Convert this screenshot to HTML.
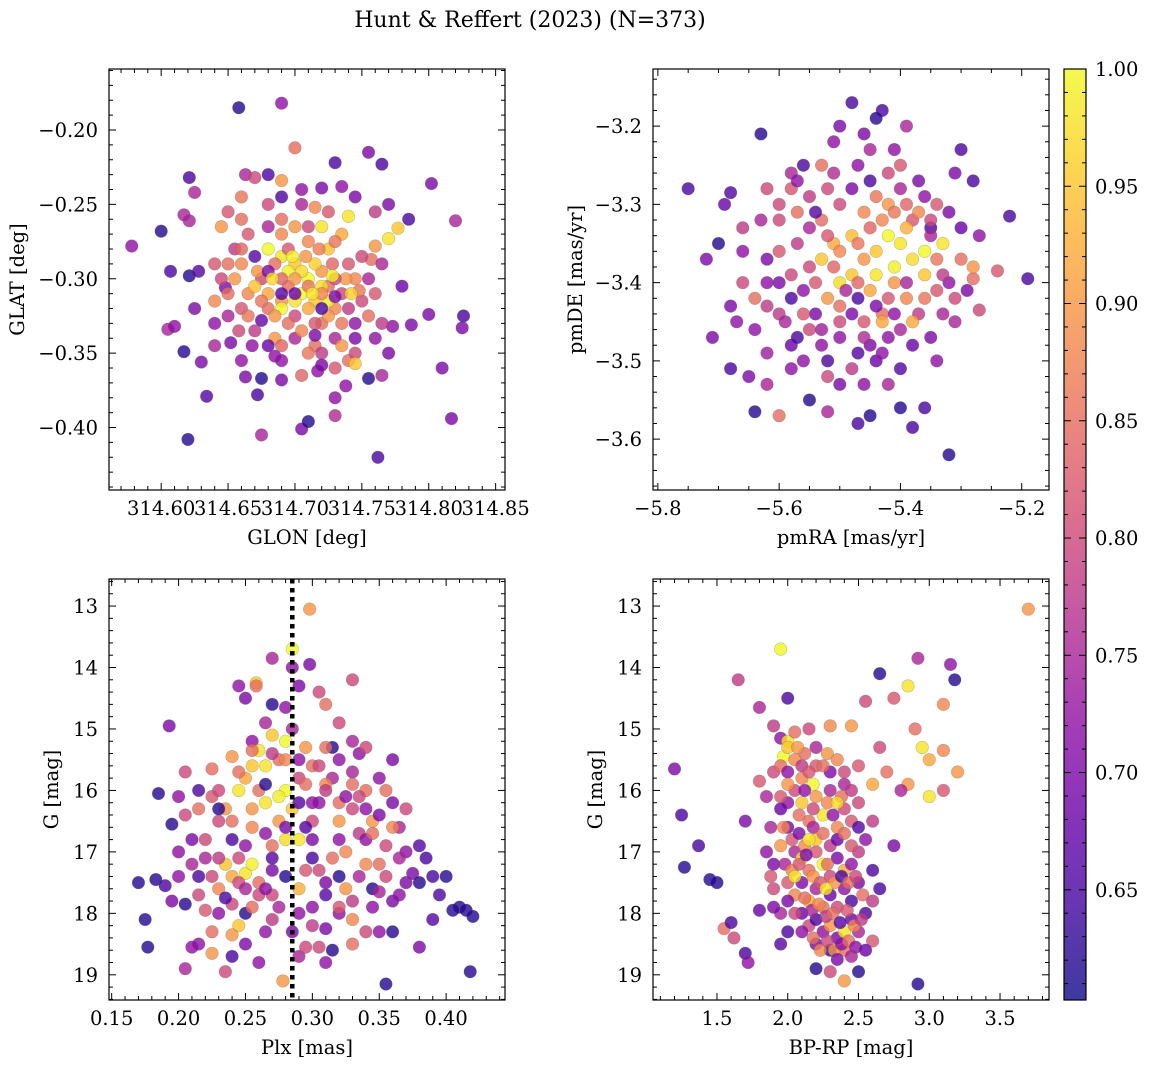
<!DOCTYPE html>
<html><head><meta charset="utf-8"><style>
html,body{margin:0;padding:0;background:#fff;}
svg text{font-family:"DejaVu Serif","Liberation Serif",serif;fill:#000;}
</style></head><body>
<svg id="fig" width="1149" height="1068" xmlns="http://www.w3.org/2000/svg">
<text x="530" y="27" font-size="22" text-anchor="middle">Hunt &amp; Reffert (2023) (N=373)</text>
</svg>
<script>
// ---- data ----
const p1 = [[314.578,-0.278,0.72],[314.60,-0.268,0.62],[314.621,-0.232,0.65],[314.625,-0.242,0.75],[314.607,-0.295,0.65],[314.621,-0.298,0.62],[314.628,-0.295,0.66],[314.605,-0.334,0.75],[314.61,-0.332,0.72],[314.617,-0.349,0.62],[314.63,-0.356,0.7],[314.634,-0.379,0.66],[314.62,-0.408,0.62],[314.617,-0.257,0.75],[314.621,-0.261,0.75],[314.658,-0.185,0.62],[314.69,-0.182,0.72],[314.648,-0.306,0.7],[314.652,-0.343,0.7],[314.663,-0.366,0.7],[314.672,-0.378,0.65],[314.675,-0.367,0.62],[314.675,-0.405,0.75],[314.685,-0.352,0.72],[314.69,-0.368,0.7],[314.705,-0.401,0.7],[314.71,-0.396,0.62],[314.717,-0.362,0.72],[314.73,-0.38,0.72],[314.738,-0.372,0.72],[314.73,-0.392,0.76],[314.755,-0.367,0.62],[314.765,-0.365,0.75],[314.762,-0.42,0.65],[314.773,-0.332,0.72],[314.787,-0.331,0.7],[314.8,-0.324,0.7],[314.81,-0.36,0.7],[314.817,-0.394,0.7],[314.826,-0.325,0.65],[314.825,-0.333,0.7],[314.82,-0.261,0.75],[314.802,-0.236,0.7],[314.785,-0.26,0.65],[314.765,-0.223,0.65],[314.755,-0.215,0.7],[314.73,-0.222,0.65],[314.7,-0.212,0.85],[314.663,-0.23,0.75],[314.67,-0.232,0.8],[314.68,-0.23,0.65],[314.69,-0.234,0.9],[314.72,-0.239,0.7],[314.745,-0.245,0.7],[314.77,-0.25,0.7],[314.777,-0.266,0.95],[314.77,-0.273,0.98],[314.76,-0.278,0.9],[314.74,-0.258,0.98],[314.757,-0.287,0.85],[314.765,-0.29,0.75],[314.78,-0.305,0.68],[314.68,-0.28,1.0],[314.69,-0.285,0.98],[314.70,-0.29,0.95],[314.71,-0.30,1.0],[314.72,-0.295,0.9],[314.695,-0.305,0.85],[314.705,-0.31,1.0],[314.715,-0.315,0.95],[314.725,-0.305,0.85],[314.735,-0.31,0.8],[314.69,-0.315,0.9],[314.68,-0.32,0.85],[314.70,-0.325,0.8],[314.71,-0.32,0.92],[314.72,-0.33,0.85],[314.73,-0.32,0.88],[314.675,-0.3,0.8],[314.665,-0.31,0.88],[314.66,-0.32,0.82],[314.67,-0.335,0.78],[314.685,-0.34,0.9],[314.70,-0.34,0.75],[314.715,-0.345,0.85],[314.73,-0.34,0.75],[314.745,-0.33,0.72],[314.75,-0.315,0.8],[314.745,-0.3,0.88],[314.74,-0.29,0.82],[314.725,-0.28,0.95],[314.71,-0.275,0.88],[314.70,-0.265,0.9],[314.69,-0.26,0.85],[314.68,-0.265,0.75],[314.665,-0.27,0.82],[314.655,-0.28,0.78],[314.65,-0.29,0.85],[314.655,-0.3,0.9],[314.64,-0.315,0.88],[314.65,-0.325,0.75],[314.72,-0.265,0.98],[314.735,-0.27,0.92],[314.705,-0.295,0.97],[314.695,-0.295,0.99],[314.715,-0.29,0.96],[314.725,-0.315,0.99],[314.74,-0.355,0.85],[314.745,-0.35,0.8],[314.76,-0.34,0.72],[314.765,-0.33,0.78],[314.64,-0.33,0.72],[314.66,-0.26,0.85],[314.645,-0.265,0.9],[314.65,-0.255,0.82],[314.69,-0.245,0.65],[314.705,-0.25,0.75],[314.735,-0.238,0.72],[314.725,-0.255,0.82],[314.715,-0.252,0.88],[314.745,-0.357,0.95],[314.69,-0.355,0.72],[314.68,-0.345,0.68],[314.705,-0.365,0.84],[314.735,-0.345,0.9],[314.67,-0.305,0.95],[314.68,-0.31,0.92],[314.69,-0.32,1.0],[314.70,-0.315,0.98],[314.72,-0.305,0.97],
[314.66,-0.29,0.88],[314.672,-0.295,0.9],[314.685,-0.29,0.85],[314.695,-0.28,0.82],[314.708,-0.285,0.9],[314.718,-0.28,0.87],[314.728,-0.29,0.84],[314.738,-0.3,0.9],[314.748,-0.308,0.86],[314.73,-0.3,0.8],[314.72,-0.31,0.88],[314.71,-0.305,0.86],[314.70,-0.3,0.9],[314.69,-0.3,0.84],[314.68,-0.295,0.7],[314.675,-0.315,0.86],[314.685,-0.325,0.9],[314.695,-0.33,0.85],[314.705,-0.335,0.88],[314.715,-0.33,0.82],[314.725,-0.325,0.9],[314.735,-0.33,0.86],[314.74,-0.32,0.78],[314.755,-0.325,0.85],[314.665,-0.325,0.86],[314.658,-0.335,0.8],[314.668,-0.345,0.72],[314.69,-0.345,0.84],[314.71,-0.35,0.86],[314.72,-0.35,0.78],[314.73,-0.36,0.82],[314.65,-0.31,0.85],[314.645,-0.3,0.8],[314.64,-0.29,0.82],[314.66,-0.28,0.84],[314.67,-0.285,0.66],[314.69,-0.27,0.88],[314.71,-0.265,0.8],[314.73,-0.275,0.86],[314.75,-0.285,0.8],[314.755,-0.3,0.75],[314.76,-0.31,0.82],[314.72,-0.32,0.65],[314.70,-0.31,0.68],[314.69,-0.31,0.66],[314.73,-0.312,0.7],[314.675,-0.328,0.68],[314.715,-0.338,0.7],[314.745,-0.34,0.7],[314.64,-0.345,0.75],[314.625,-0.32,0.7],[314.76,-0.255,0.78],[314.68,-0.25,0.8],[314.66,-0.245,0.86],[314.705,-0.24,0.72],[314.72,-0.358,0.7],[314.77,-0.35,0.7],[314.66,-0.355,0.72],[314.698,-0.285,0.99],[314.713,-0.31,0.98],[314.683,-0.3,0.97],[314.742,-0.31,0.96],[314.728,-0.298,0.99]];
const p2 = [[-5.75,-3.28,0.65],[-5.63,-3.21,0.62],[-5.69,-3.30,0.68],[-5.68,-3.285,0.66],[-5.70,-3.35,0.62],[-5.72,-3.37,0.7],[-5.71,-3.47,0.7],[-5.67,-3.45,0.72],[-5.68,-3.51,0.65],[-5.65,-3.52,0.7],[-5.64,-3.565,0.62],[-5.6,-3.57,0.85],[-5.62,-3.53,0.75],[-5.55,-3.55,0.62],[-5.52,-3.565,0.75],[-5.47,-3.58,0.65],[-5.45,-3.57,0.62],[-5.4,-3.56,0.62],[-5.38,-3.585,0.65],[-5.36,-3.56,0.65],[-5.32,-3.62,0.62],[-5.5,-3.53,0.7],[-5.42,-3.53,0.75],[-5.48,-3.17,0.65],[-5.43,-3.18,0.65],[-5.44,-3.19,0.62],[-5.41,-3.23,0.72],[-5.39,-3.2,0.75],[-5.5,-3.2,0.7],[-5.46,-3.21,0.7],[-5.51,-3.22,0.72],[-5.56,-3.25,0.65],[-5.58,-3.26,0.75],[-5.53,-3.25,0.85],[-5.45,-3.23,0.75],[-5.3,-3.23,0.65],[-5.31,-3.26,0.7],[-5.28,-3.27,0.65],[-5.22,-3.315,0.65],[-5.27,-3.34,0.72],[-5.19,-3.395,0.65],[-5.24,-3.385,0.82],[-5.28,-3.395,0.85],[-5.27,-3.435,0.8],[-5.32,-3.31,0.7],[-5.35,-3.33,0.65],[-5.3,-3.37,0.85],[-5.28,-3.38,0.9],[-5.42,-3.34,1.0],[-5.4,-3.35,0.98],[-5.38,-3.37,0.97],[-5.36,-3.36,1.0],[-5.44,-3.36,0.95],[-5.46,-3.37,0.9],[-5.48,-3.39,0.95],[-5.5,-3.4,0.97],[-5.45,-3.41,0.92],[-5.41,-3.4,0.9],[-5.39,-3.42,0.88],[-5.43,-3.44,0.85],[-5.5,-3.43,0.85],[-5.52,-3.42,0.9],[-5.55,-3.38,0.8],[-5.57,-3.35,0.78],[-5.53,-3.32,0.85],[-5.5,-3.3,0.8],[-5.46,-3.31,0.88],[-5.42,-3.3,0.9],[-5.38,-3.32,0.82],[-5.35,-3.34,0.75],[-5.33,-3.35,0.98],[-5.36,-3.39,0.95],[-5.34,-3.41,0.82],[-5.37,-3.44,0.78],[-5.4,-3.46,0.75],[-5.45,-3.48,0.7],[-5.5,-3.47,0.72],[-5.55,-3.46,0.8],[-5.6,-3.44,0.78],[-5.62,-3.4,0.72],[-5.6,-3.36,0.82],[-5.63,-3.32,0.75],[-5.6,-3.3,0.8],[-5.58,-3.28,0.82],[-5.55,-3.29,0.78],[-5.52,-3.28,0.8],[-5.48,-3.28,0.7],[-5.45,-3.27,0.65],[-5.42,-3.26,0.8],[-5.4,-3.28,0.75],[-5.36,-3.29,0.72],[-5.58,-3.48,0.68],[-5.56,-3.5,0.72],[-5.52,-3.5,0.65],[-5.48,-3.51,0.78],[-5.44,-3.5,0.68],[-5.42,-3.47,0.72],[-5.35,-3.47,0.7],[-5.33,-3.44,0.75],[-5.32,-3.4,0.72],[-5.47,-3.42,0.65],[-5.53,-3.37,0.95],[-5.51,-3.35,0.92],[-5.44,-3.39,0.98],[-5.41,-3.38,0.99],[-5.39,-3.33,0.93],[-5.48,-3.34,0.94],[-5.62,-3.37,0.7],[-5.66,-3.36,0.72],[-5.64,-3.42,0.85],[-5.66,-3.4,0.8],[-5.58,-3.42,0.65],[-5.54,-3.44,0.7],[-5.46,-3.45,0.82],[-5.43,-3.45,0.92],[-5.38,-3.45,0.92],
[-5.6,-3.32,0.8],[-5.57,-3.31,0.85],[-5.55,-3.33,0.75],[-5.52,-3.34,0.82],[-5.5,-3.36,0.88],[-5.47,-3.35,0.86],[-5.45,-3.33,0.84],[-5.43,-3.32,0.88],[-5.41,-3.31,0.86],[-5.39,-3.3,0.84],[-5.37,-3.31,0.88],[-5.35,-3.32,0.8],[-5.34,-3.37,0.86],[-5.33,-3.39,0.78],[-5.31,-3.42,0.8],[-5.36,-3.42,0.86],[-5.39,-3.4,0.75],[-5.42,-3.42,0.82],[-5.44,-3.43,0.7],[-5.47,-3.4,0.84],[-5.49,-3.41,0.75],[-5.51,-3.38,0.84],[-5.54,-3.4,0.82],[-5.56,-3.41,0.72],[-5.58,-3.39,0.8],[-5.6,-3.4,0.7],[-5.62,-3.43,0.78],[-5.59,-3.45,0.75],[-5.56,-3.44,0.82],[-5.53,-3.46,0.74],[-5.5,-3.45,0.8],[-5.48,-3.44,0.7],[-5.46,-3.47,0.76],[-5.41,-3.44,0.72],[-5.38,-3.48,0.68],[-5.43,-3.49,0.72],[-5.47,-3.49,0.66],[-5.53,-3.48,0.72],[-5.57,-3.47,0.65],[-5.64,-3.46,0.72],[-5.66,-3.33,0.78],[-5.62,-3.28,0.8],[-5.57,-3.27,0.72],[-5.54,-3.31,0.66],[-5.51,-3.26,0.76],[-5.47,-3.25,0.72],[-5.44,-3.29,0.86],[-5.4,-3.25,0.82],[-5.37,-3.27,0.7],[-5.34,-3.3,0.82],[-5.3,-3.33,0.68],[-5.29,-3.41,0.7],[-5.31,-3.45,0.75],[-5.34,-3.5,0.72],[-5.4,-3.51,0.66],[-5.46,-3.53,0.72],[-5.52,-3.52,0.8],[-5.58,-3.51,0.72],[-5.62,-3.49,0.74],[-5.68,-3.43,0.7]];
const p3 = [[0.298,13.05,0.9],[0.285,13.7,1.0],[0.27,13.85,0.75],[0.258,14.25,0.95],[0.258,14.3,0.85],[0.25,14.5,0.7],[0.298,13.95,0.7],[0.33,14.2,0.8],[0.305,14.4,0.8],[0.28,14.65,0.72],[0.31,14.6,0.85],[0.32,14.9,0.8],[0.193,14.95,0.7],[0.285,15.0,0.75],[0.27,15.1,0.95],[0.255,15.2,0.72],[0.26,15.35,0.98],[0.28,15.2,1.0],[0.295,15.3,0.9],[0.315,15.3,0.62],[0.335,15.4,0.72],[0.34,15.3,0.8],[0.36,15.5,0.7],[0.24,15.45,0.9],[0.225,15.65,0.85],[0.205,15.7,0.8],[0.17,17.5,0.62],[0.183,17.45,0.62],[0.19,17.55,0.65],[0.175,18.1,0.62],[0.177,18.55,0.62],[0.185,16.05,0.62],[0.195,16.55,0.62],[0.2,17.0,0.72],[0.205,17.85,0.62],[0.21,18.55,0.72],[0.205,18.9,0.75],[0.215,18.5,0.72],[0.235,18.95,0.8],[0.225,18.65,0.9],[0.245,18.2,0.95],[0.24,18.35,0.9],[0.225,18.3,0.85],[0.22,17.95,0.82],[0.23,17.6,0.88],[0.24,17.4,0.92],[0.25,17.35,0.98],[0.26,17.5,0.85],[0.27,17.7,0.8],[0.275,17.9,0.75],[0.285,18.3,0.7],[0.29,18.7,0.75],[0.278,19.1,0.9],[0.295,18.55,0.8],[0.305,18.55,0.8],[0.31,18.25,0.7],[0.32,18.0,0.72],[0.33,18.5,0.85],[0.34,18.3,0.8],[0.35,18.3,0.72],[0.36,18.3,0.62],[0.355,19.15,0.62],[0.38,18.55,0.7],[0.39,17.4,0.65],[0.4,17.4,0.62],[0.41,17.9,0.62],[0.415,17.95,0.62],[0.42,18.05,0.62],[0.418,18.95,0.62],[0.405,17.95,0.62],[0.385,17.1,0.65],[0.375,17.35,0.7],[0.37,17.0,0.72],[0.365,16.6,0.75],[0.36,16.2,0.7],[0.355,16.9,0.8],[0.35,17.2,0.85],[0.345,16.5,0.9],[0.34,16.0,0.85],[0.335,16.7,0.78],[0.33,16.3,0.8],[0.325,17.0,0.88],[0.32,16.8,0.72],[0.315,15.8,0.75],[0.31,15.9,0.88],[0.305,16.2,0.72],[0.3,16.5,0.8],[0.3,17.1,0.65],[0.31,17.5,0.7],[0.32,17.4,0.62],[0.33,17.8,0.78],[0.345,17.6,0.62],[0.3,17.9,0.72],[0.295,17.3,0.82],[0.29,16.8,0.98],[0.285,16.3,0.95],[0.28,16.0,1.0],[0.275,16.5,0.9],[0.27,16.9,0.85],[0.265,16.2,0.98],[0.26,16.0,0.85],[0.255,16.6,0.88],[0.25,16.9,0.72],[0.245,17.1,0.8],[0.24,16.8,0.65],[0.235,17.2,0.95],[0.23,16.5,0.8],[0.22,17.1,0.75],[0.215,17.4,0.65],[0.21,16.8,0.7],[0.215,16.3,0.85],[0.225,16.1,0.82],[0.235,16.3,0.9],[0.245,16.0,0.98],[0.25,15.8,0.92],[0.255,15.6,0.95],[0.265,15.9,0.62],[0.275,15.5,0.85],[0.29,15.8,0.8],[0.3,15.6,0.85],[0.31,16.0,0.78],[0.32,16.2,0.85],[0.33,15.7,0.75],[0.34,16.8,0.72],[0.28,17.4,0.62],[0.27,17.3,0.7],[0.26,17.7,0.8],[0.25,18.0,0.62],[0.24,17.85,0.8],[0.35,17.65,0.75],[0.36,17.8,0.7],[0.255,17.2,0.99],[0.28,16.8,0.97],[0.275,16.1,0.99],[0.29,17.6,0.93],
[0.2,16.1,0.72],[0.205,16.4,0.8],[0.21,17.2,0.75],[0.2,17.4,0.72],[0.195,17.8,0.7],[0.215,17.7,0.8],[0.225,17.4,0.8],[0.23,17.1,0.78],[0.23,18.0,0.72],[0.235,17.75,0.65],[0.245,17.5,0.8],[0.25,17.6,0.75],[0.255,17.9,0.85],[0.265,17.6,0.72],[0.27,18.1,0.78],[0.265,18.3,0.72],[0.25,18.5,0.7],[0.24,18.7,0.65],[0.26,18.8,0.72],[0.22,16.8,0.8],[0.23,16.0,0.8],[0.24,16.5,0.85],[0.255,16.3,0.9],[0.265,16.7,0.72],[0.27,17.1,0.66],[0.245,15.7,0.85],[0.265,15.6,0.98],[0.255,15.35,0.85],[0.27,15.4,0.78],[0.28,15.5,0.88],[0.295,15.9,0.85],[0.3,16.2,0.72],[0.295,16.6,0.66],[0.3,16.8,0.7],[0.305,17.3,0.8],[0.31,17.7,0.66],[0.315,17.1,0.85],[0.32,16.5,0.9],[0.325,16.1,0.72],[0.33,15.9,0.85],[0.335,16.1,0.8],[0.34,16.3,0.72],[0.345,16.7,0.85],[0.35,16.4,0.7],[0.355,16.0,0.85],[0.36,16.6,0.88],[0.365,17.1,0.75],[0.37,17.5,0.7],[0.365,17.7,0.72],[0.355,17.4,0.8],[0.345,17.9,0.72],[0.34,17.2,0.88],[0.335,17.4,0.75],[0.325,17.6,0.9],[0.32,17.9,0.82],[0.33,18.1,0.88],[0.315,18.6,0.62],[0.31,18.8,0.72],[0.3,18.2,0.78],[0.29,18.0,0.72],[0.29,16.2,0.66],[0.28,16.6,0.7],[0.305,15.6,0.8],[0.31,15.3,0.85],[0.32,15.5,0.72],[0.33,15.2,0.75],[0.35,15.8,0.72],[0.37,16.3,0.8],[0.38,16.9,0.66],[0.38,17.5,0.62],[0.395,17.7,0.65],[0.39,18.1,0.66],[0.285,14.0,0.72],[0.29,14.3,0.7],[0.29,15.5,0.72],[0.265,14.9,0.75],[0.27,14.6,0.62],[0.245,14.3,0.72],[0.23,16.3,0.62],[0.215,16.0,0.65]];
const p4 = [[3.7,13.05,0.9],[1.95,13.7,1.0],[2.0,14.5,0.65],[1.65,14.2,0.78],[1.2,15.65,0.7],[1.25,16.4,0.65],[1.27,17.25,0.62],[1.37,16.9,0.65],[1.45,17.45,0.62],[1.5,17.5,0.62],[1.55,18.25,0.85],[1.6,18.15,0.65],[1.62,18.4,0.8],[1.7,18.65,0.65],[1.72,18.8,0.72],[1.8,17.95,0.68],[1.7,16.5,0.7],[1.8,15.85,0.82],[1.85,16.1,0.75],[1.9,14.95,0.78],[1.8,14.65,0.75],[1.95,15.15,0.72],[2.0,15.2,0.98],[1.97,15.45,1.0],[2.0,15.3,0.95],[2.05,15.05,0.85],[2.15,15.0,0.8],[2.3,14.95,0.88],[2.45,14.95,0.9],[2.55,14.55,0.8],[2.65,14.1,0.62],[2.75,14.5,0.82],[2.85,14.3,0.98],[2.92,13.85,0.75],[3.15,13.95,0.72],[3.18,14.2,0.62],[3.1,14.6,0.88],[2.9,15.0,0.85],[2.95,15.3,0.98],[3.1,15.35,0.88],[3.0,15.5,0.92],[3.2,15.7,0.9],[2.85,15.9,0.9],[3.0,16.1,0.98],[2.8,16.0,0.75],[3.1,16.0,0.82],[2.7,15.7,0.85],[2.65,15.3,0.8],[2.6,15.9,0.92],[2.5,15.6,0.82],[2.75,16.9,0.7],[2.65,17.6,0.65],[2.6,18.45,0.82],[2.5,18.95,0.62],[2.4,19.1,0.9],[2.3,18.95,0.8],[2.92,19.15,0.62],[2.2,18.9,0.62],[2.05,16.0,0.8],[2.1,16.2,0.95],[2.15,16.5,0.85],[2.2,16.1,0.9],[2.25,16.4,0.98],[2.3,16.0,0.75],[2.35,16.6,0.88],[2.4,16.3,0.8],[2.0,16.6,0.7],[1.95,16.9,0.9],[2.05,17.0,0.75],[2.1,17.1,0.98],[2.15,17.3,0.85],[2.2,17.0,0.82],[2.25,17.2,1.0],[2.3,17.4,0.8],[2.35,17.1,0.7],[2.4,17.3,0.92],[2.45,17.2,0.72],[2.5,17.0,0.78],[2.0,17.5,0.82],[2.05,17.7,0.88],[2.1,17.5,0.7],[2.15,17.8,0.92],[2.2,17.6,0.75],[2.25,17.9,0.85],[2.3,17.7,0.68],[2.35,17.9,0.8],[2.4,17.6,0.72],[2.45,17.8,0.65],[2.5,17.5,0.7],[2.1,18.0,0.68],[2.15,18.2,0.8],[2.2,18.1,0.65],[2.25,18.3,0.72],[2.3,18.2,0.9],[2.35,18.4,0.7],[2.4,18.3,0.98],[2.45,18.1,0.68],[2.5,18.3,0.75],[2.55,18.0,0.65],[2.2,18.5,0.7],[2.3,18.6,0.62],[2.4,18.6,0.85],[2.0,16.2,0.72],[2.1,15.8,0.88],[2.2,15.6,0.82],[2.3,15.7,0.7],[2.4,15.9,0.75],[2.5,16.2,0.8],[2.55,16.8,0.72],[2.6,17.3,0.65],[1.95,16.3,0.68],[1.9,17.2,0.7],[1.9,17.6,0.8],[1.95,18.0,0.75],[2.0,18.3,0.65],[2.2,16.8,0.95],[2.18,15.9,1.0],[2.28,15.4,0.9],[2.12,15.4,0.85],
[1.9,15.7,0.8],[1.95,15.6,0.85],[2.0,15.7,0.72],[2.05,15.5,0.88],[2.1,15.6,0.78],[2.15,15.7,0.82],[2.25,15.6,0.85],[2.35,15.5,0.88],[2.4,15.7,0.8],[1.95,16.1,0.82],[2.0,15.9,0.9],[2.08,16.4,0.85],[2.12,16.0,0.72],[2.18,16.3,0.8],[2.28,16.2,0.88],[2.32,16.4,0.72],[2.38,16.1,0.85],[2.45,16.0,0.78],[2.45,16.5,0.82],[1.97,16.6,0.88],[2.03,16.8,0.82],[2.08,16.7,0.7],[2.12,16.9,0.88],[2.18,16.6,0.75],[2.25,16.7,0.85],[2.3,16.9,0.78],[2.35,16.8,0.68],[2.4,16.7,0.85],[2.45,16.9,0.82],[2.5,16.6,0.66],[1.98,17.2,0.75],[2.03,17.3,0.88],[2.08,17.2,0.82],[2.13,17.05,0.7],[2.18,17.4,0.9],[2.23,17.5,0.82],[2.28,17.2,0.85],[2.33,17.5,0.9],[2.38,17.4,0.65],[2.43,17.5,0.85],[2.48,17.4,0.8],[2.53,17.7,0.85],[2.0,17.8,0.7],[2.05,18.0,0.8],[2.12,17.75,0.85],[2.17,17.95,0.75],[2.22,17.85,0.88],[2.27,18.05,0.78],[2.32,18.0,0.85],[2.37,18.15,0.66],[2.42,17.95,0.82],[2.47,18.2,0.88],[2.52,18.1,0.78],[2.1,18.3,0.72],[2.18,18.4,0.85],[2.23,18.6,0.88],[2.28,18.45,0.8],[2.33,18.6,0.9],[2.38,18.5,0.72],[2.43,18.45,0.85],[2.48,18.55,0.72],[2.35,18.75,0.7],[2.45,18.7,0.75],[2.55,18.6,0.68],[2.6,17.8,0.78],[2.6,16.5,0.78],[1.88,16.6,0.75],[1.85,17.0,0.72],[1.88,17.4,0.82],[1.9,17.9,0.7],[1.95,18.5,0.66],[2.2,15.3,0.75],[2.07,15.3,0.9],[2.27,17.6,0.98],[2.15,16.8,0.98],[2.05,17.4,0.98],[2.35,16.2,0.97]];
const plxLine = 0.285;
const cbTicks = [0.65,0.70,0.75,0.80,0.85,0.90,0.95,1.00];

const NS='http://www.w3.org/2000/svg';
const svg=document.getElementById('fig');
function mk(tag,attrs,parent){const e=document.createElementNS(NS,tag);for(const k in attrs)e.setAttribute(k,attrs[k]);(parent||svg).appendChild(e);return e;}
const stops=[[0,[13,8,135]],[0.1,[65,4,157]],[0.2,[106,0,168]],[0.3,[143,13,164]],[0.4,[177,42,144]],[0.5,[204,71,120]],[0.6,[225,100,98]],[0.7,[242,132,75]],[0.8,[252,166,54]],[0.9,[252,206,37]],[1,[240,249,33]]];
function plasma(t){t=Math.max(0,Math.min(1,t));for(let i=1;i<stops.length;i++){if(t<=stops[i][0]){const a=stops[i-1],b=stops[i];const f=(t-a[0])/(b[0]-a[0]);return 'rgb('+a[1].map((v,j)=>Math.round(v+(b[1][j]-v)*f)).join(',')+')';}}return 'rgb(240,249,33)';}
const VMIN=0.603,VMAX=1.0;
const FS=19.5;
function fmt(v,d){const s=v.toFixed(d);return s.replace('-','\u2212');}

function panel(o){
  const g=mk('g',{});
  
  
  const sx=v=>o.x0+(v-o.xmin)/(o.xmax-o.xmin)*(o.x1-o.x0);
  const sy=o.yinv?(v=>o.y0+(v-o.ymin)/(o.ymax-o.ymin)*(o.y1-o.y0)):(v=>o.y1-(v-o.ymin)/(o.ymax-o.ymin)*(o.y1-o.y0));
  for(const d of o.data){
    const c=mk('circle',{cx:sx(d[0]),cy:sy(d[1]),r:6.3,fill:plasma((d[2]-VMIN)/(VMAX-VMIN)),'fill-opacity':0.8,stroke:'#555','stroke-opacity':0.35,'stroke-width':0.6},g);
    
    
  }
  if(o.vline!==undefined){
    const l=mk('line',{x1:sx(o.vline),x2:sx(o.vline),y1:o.y0,y2:o.y1,stroke:'#000','stroke-width':4.5,'stroke-dasharray':'4.5,4.5'},g);
    
    
  }
  const fr=mk('rect',{x:o.x0,y:o.y0,width:o.x1-o.x0,height:o.y1-o.y0,fill:'none',stroke:'#000','stroke-width':1.2},g);
  
  
  const eps=1e-9;
  for(let v=Math.ceil(o.xmin/o.xm-eps)*o.xm;v<=o.xmax+eps;v+=o.xm){const X=sx(v);const maj=Math.abs(v/o.xM-Math.round(v/o.xM))<1e-6;const L=maj?7:4;
    mk('line',{x1:X,x2:X,y1:o.y1,y2:o.y1-L,stroke:'#000','stroke-width':1},g);mk('line',{x1:X,x2:X,y1:o.y0,y2:o.y0+L,stroke:'#000','stroke-width':1},g);
    if(maj){const t=mk('text',{x:X,y:o.y1+25,'font-size':FS,'text-anchor':'middle'},g);t.textContent=fmt(v,o.xd);}}
  for(let v=Math.ceil(o.ymin/o.ym-eps)*o.ym;v<=o.ymax+eps;v+=o.ym){const Y=sy(v);const maj=Math.abs(v/o.yM-Math.round(v/o.yM))<1e-6;const L=maj?7:4;
    mk('line',{x1:o.x0,x2:o.x0+L,y1:Y,y2:Y,stroke:'#000','stroke-width':1},g);mk('line',{x1:o.x1,x2:o.x1-L,y1:Y,y2:Y,stroke:'#000','stroke-width':1},g);
    if(maj){const t=mk('text',{x:o.x0-11,y:Y+7,'font-size':FS,'text-anchor':'end'},g);t.textContent=fmt(v,o.yd);}}
  const xl=mk('text',{x:(o.x0+o.x1)/2,y:o.y1+54,'font-size':FS,'text-anchor':'middle'},g);xl.textContent=o.xl;
  
  const yx=o.ylx,yy=(o.y0+o.y1)/2;
  const yl=mk('text',{x:yx,y:yy,'font-size':FS,'text-anchor':'middle',transform:`rotate(-90 ${yx} ${yy})`},g);yl.textContent=o.yl;
  
}
panel({name:'glon-glat-panel',data:p1,x0:109,x1:505,y0:69,y1:490,xmin:314.561,xmax:314.857,ymin:-0.442,ymax:-0.159,xM:0.05,xm:0.01,yM:0.05,ym:0.01,xd:2,yd:2,xl:'GLON [deg]',yl:'GLAT [deg]',ylx:24});
panel({name:'proper-motion-panel',data:p2,x0:653,x1:1049,y0:69,y1:490,xmin:-5.808,xmax:-5.155,ymin:-3.665,ymax:-3.127,xM:0.2,xm:0.05,yM:0.1,ym:0.02,xd:1,yd:1,xl:'pmRA [mas/yr]',yl:'pmDE [mas/yr]',ylx:582});
panel({name:'parallax-magnitude-panel',data:p3,x0:109,x1:505,y0:579,y1:1000,xmin:0.148,xmax:0.444,ymin:12.56,ymax:19.41,yinv:true,xM:0.05,xm:0.01,yM:1,ym:0.2,xd:2,yd:0,xl:'Plx [mas]',yl:'G [mag]',ylx:58,vline:plxLine});
panel({name:'color-magnitude-panel',data:p4,x0:653,x1:1049,y0:579,y1:1000,xmin:1.048,xmax:3.846,ymin:12.56,ymax:19.41,yinv:true,xM:0.5,xm:0.1,yM:1,ym:0.2,xd:1,yd:0,xl:'BP-RP [mag]',yl:'G [mag]',ylx:602});

const cb=mk('g',{});


const defs=mk('defs',{},cb);
const lg=mk('linearGradient',{id:'cbg',x1:0,y1:1,x2:0,y2:0},defs);
for(const s of stops){mk('stop',{offset:s[0],'stop-color':'rgb('+s[1].join(',')+')'},lg);}
const CX0=1064,CX1=1086,CY0=69,CY1=1000;
mk('rect',{x:CX0,y:CY0,width:CX1-CX0,height:CY1-CY0,fill:'url(#cbg)','fill-opacity':0.8},cb);
mk('rect',{x:CX0,y:CY0,width:CX1-CX0,height:CY1-CY0,fill:'none',stroke:'#000','stroke-width':1.2},cb);
const cy=v=>CY1-(v-VMIN)/(VMAX-VMIN)*(CY1-CY0);
for(let v=0.61;v<=1.0001;v+=0.01){const Y=cy(v);const maj=Math.abs(v*20-Math.round(v*20))<1e-6;mk('line',{x1:CX1,x2:CX1-(maj?7:4),y1:Y,y2:Y,stroke:'#000','stroke-width':1},cb);mk('line',{x1:CX0,x2:CX0+(maj?7:4),y1:Y,y2:Y,stroke:'#000','stroke-width':1},cb);}
for(const v of cbTicks){const t=mk('text',{x:CX1+9,y:cy(v)+7,'font-size':FS},cb);t.textContent=v.toFixed(2);}
</script>
</body></html>
